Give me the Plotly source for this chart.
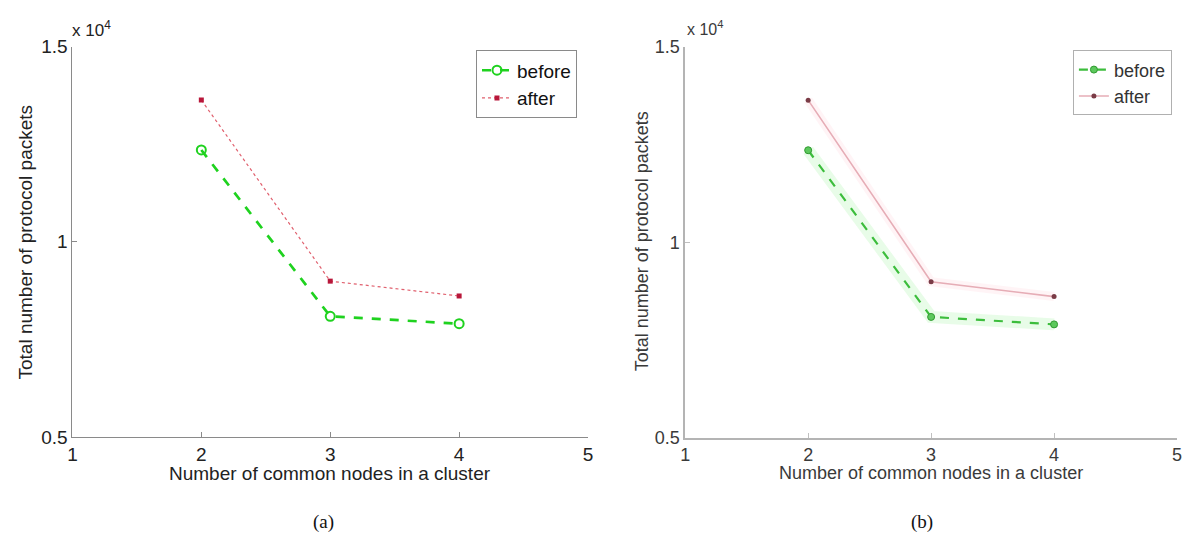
import plotly.graph_objects as go

# ---- data ----
common_nodes = [2, 3, 4]
before_packets = [12350, 8090, 7900]
after_packets = [13630, 8990, 8610]
x_tick_vals = [1, 2, 3, 4, 5]
x_tick_text = ["1", "2", "3", "4", "5"]
y_tick_vals = [5000, 10000, 15000]
y_tick_text = ["0.5", "1", "1.5"]
series_names = ["before", "after"]
x_title = "Number of common nodes in a cluster"
y_title = "Total number of protocol packets"
panel_labels = ["(a)", "(b)"]

W, H = 1185, 545
def px(x):
    return x / W
def py(y):
    return 1 - y / H

FONT = "Liberation Sans, Arial, sans-serif"
SERIF = "Liberation Serif, Times New Roman, serif"

fig = go.Figure()

# ---- left panel (a) ----
fig.add_trace(go.Scatter(
    x=common_nodes, y=before_packets, name=series_names[0],
    mode="lines+markers", xaxis="x", yaxis="y", legend="legend",
    line=dict(color="#1fd21f", width=2.7, dash="dash"),
    marker=dict(symbol="circle-open", size=9, color="#1fd21f", line=dict(width=2, color="#1fd21f")),
))
fig.add_trace(go.Scatter(
    x=common_nodes, y=after_packets, name=series_names[1],
    mode="lines+markers", xaxis="x", yaxis="y", legend="legend",
    line=dict(color="#e0606e", width=1.2, dash="dot"),
    marker=dict(symbol="square", size=5, color="#b8173a"),
))

# ---- right panel (b): blurry copy ----
fig.add_trace(go.Scatter(
    x=common_nodes, y=before_packets, mode="lines", xaxis="x2", yaxis="y2",
    showlegend=False, hoverinfo="skip",
    line=dict(color="rgba(80,230,80,0.13)", width=12),
))
fig.add_trace(go.Scatter(
    x=common_nodes, y=after_packets, mode="lines", xaxis="x2", yaxis="y2",
    showlegend=False, hoverinfo="skip",
    line=dict(color="rgba(255,150,170,0.10)", width=9),
))
fig.add_trace(go.Scatter(
    x=common_nodes, y=before_packets, name=series_names[0],
    mode="lines+markers", xaxis="x2", yaxis="y2", legend="legend2",
    line=dict(color="#3cbd3c", width=2.2, dash="dash"),
    marker=dict(symbol="circle", size=7, color="#5cc85c", line=dict(width=1, color="#2f9a2f")),
))
fig.add_trace(go.Scatter(
    x=common_nodes, y=after_packets, name=series_names[1],
    mode="lines+markers", xaxis="x2", yaxis="y2", legend="legend2",
    line=dict(color="#e6adb6", width=1.6),
    marker=dict(symbol="circle", size=5, color="#7a3b46"),
))

axis_common = dict(
    showgrid=False, zeroline=False, showline=True, mirror=False,
    ticks="inside", ticklen=5, tickwidth=1,
    tickfont=dict(family=FONT, size=19, color="#222"),
)

fig.update_layout(
    width=W, height=H, autosize=False,
    margin=dict(l=0, r=0, t=0, b=0),
    paper_bgcolor="white", plot_bgcolor="white",
    font=dict(family=FONT, size=19, color="#222"),
    xaxis=dict(axis_common, domain=[px(68), px(588)], range=[1, 5],
               tickmode="array", tickvals=x_tick_vals, ticktext=x_tick_text,
               linecolor="#8a8a8a", tickcolor="#8a8a8a", anchor="y"),
    yaxis=dict(axis_common, domain=[py(444), py(38)], range=[5000, 15000],
               tickmode="array", tickvals=y_tick_vals, ticktext=y_tick_text,
               linecolor="#8a8a8a", tickcolor="#8a8a8a", anchor="x"),
    xaxis2=dict(axis_common, domain=[px(686), px(1182)], range=[1, 5],
                tickmode="array", tickvals=x_tick_vals, ticktext=x_tick_text,
                linecolor="#b4b4b4", tickcolor="#c0c0c0", linewidth=1.5, anchor="y2",
                tickfont=dict(family=FONT, size=18, color="#3a3a3a")),
    yaxis2=dict(axis_common, domain=[py(445), py(38)], range=[5000, 15000],
                tickmode="array", tickvals=y_tick_vals, ticktext=y_tick_text,
                linecolor="#b4b4b4", tickcolor="#c0c0c0", linewidth=1.5, anchor="x2",
                tickfont=dict(family=FONT, size=18, color="#3a3a3a")),
    legend=dict(x=px(475), y=py(42), xanchor="left", yanchor="top",
                bordercolor="#8a8a8a", borderwidth=1, bgcolor="white",
                font=dict(family=FONT, size=19, color="#111"),
                tracegroupgap=0),
    legend2=dict(x=px(1077), y=py(42), xanchor="left", yanchor="top",
                 bordercolor="#b0b0b0", borderwidth=1, bgcolor="white",
                 font=dict(family=FONT, size=18, color="#333"),
                 tracegroupgap=0),
    showlegend=True,
)

ann = []
# axis titles
ann.append(dict(text=x_title, x=px(328), y=py(482), xref="paper", yref="paper",
                xanchor="center", yanchor="middle", showarrow=False,
                font=dict(family=FONT, size=19, color="#222")))
ann.append(dict(text=y_title, x=px(21), y=py(241), xref="paper", yref="paper",
                xanchor="center", yanchor="middle", showarrow=False, textangle=-90,
                font=dict(family=FONT, size=19, color="#222")))
ann.append(dict(text=x_title, x=px(934), y=py(482), xref="paper", yref="paper",
                xanchor="center", yanchor="middle", showarrow=False,
                font=dict(family=FONT, size=18, color="#3a3a3a")))
ann.append(dict(text=y_title, x=px(642), y=py(241), xref="paper", yref="paper",
                xanchor="center", yanchor="middle", showarrow=False, textangle=-90,
                font=dict(family=FONT, size=18, color="#3a3a3a")))
# exponent labels
ann.append(dict(text="x 10<sup>4</sup>", x=px(66), y=py(20), xref="paper", yref="paper",
                xanchor="left", yanchor="middle", showarrow=False,
                font=dict(family=FONT, size=17, color="#222")))
ann.append(dict(text="x 10<sup>4</sup>", x=px(686), y=py(19), xref="paper", yref="paper",
                xanchor="left", yanchor="middle", showarrow=False,
                font=dict(family=FONT, size=16, color="#3a3a3a")))
# panel labels
ann.append(dict(text=panel_labels[0], x=px(321), y=py(533), xref="paper", yref="paper",
                xanchor="center", yanchor="middle", showarrow=False,
                font=dict(family=SERIF, size=19, color="#111")))
ann.append(dict(text=panel_labels[1], x=px(925), y=py(533), xref="paper", yref="paper",
                xanchor="center", yanchor="middle", showarrow=False,
                font=dict(family=SERIF, size=19, color="#111")))
fig.update_layout(annotations=ann)

fig.write_html("out.html",
               config={"displayModeBar": False},
               post_script="document.body.style.margin='0';document.body.style.overflow='hidden';")
